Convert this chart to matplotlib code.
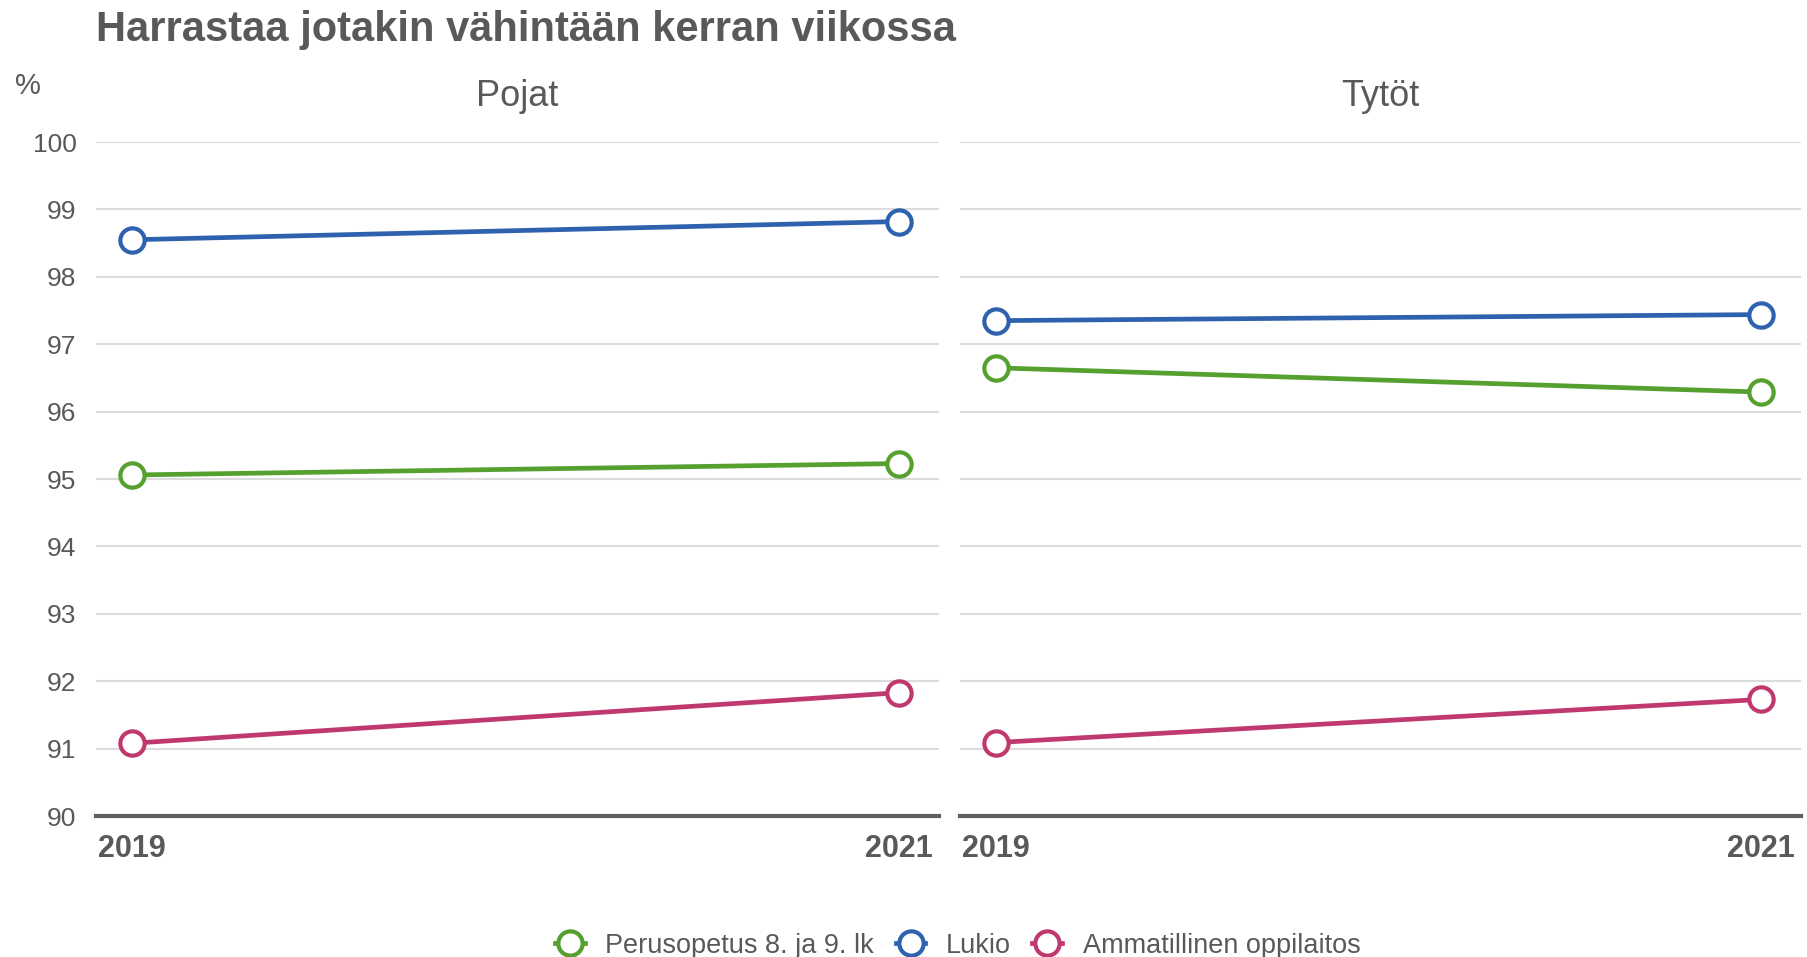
"""
Harrastaa jotakin vähintään kerran viikossa - Pojat / Tytöt.
"""

import matplotlib
matplotlib.use("Agg")  # headless
import matplotlib.pyplot as plt
from matplotlib.lines import Line2D

plt.rcParams["font.family"] = ["Liberation Sans", "DejaVu Sans"]

TEXT = "#595959"
GRID = "#dcdcdc"

years = [2019, 2021]
panels = ["Pojat", "Tytöt"]
series = ["Perusopetus 8. ja 9. lk", "Lukio", "Ammatillinen oppilaitos"]
colors = ["#55a02e", "#2e62ae", "#c0396e"]

pojat_perus = [95.06, 95.23]
pojat_lukio = [98.55, 98.82]
pojat_amm = [91.08, 91.83]

tytot_perus = [96.65, 96.29]
tytot_lukio = [97.35, 97.44]
tytot_amm = [91.09, 91.73]

values = {
    "Pojat": [pojat_perus, pojat_lukio, pojat_amm],
    "Tytöt": [tytot_perus, tytot_lukio, tytot_amm],
}

LW = 3.4
MS = 17.5
MEW = 3.0

fig = plt.figure(figsize=(18.07, 9.57), dpi=100)
bottom, height = 0.1473, 0.7043
axes = [
    fig.add_axes([0.0531, bottom, 0.4665, height]),
    fig.add_axes([0.5313, bottom, 0.4654, height]),
]

for i, (ax, panel) in enumerate(zip(axes, panels)):
    for vals, color in zip(values[panel], colors):
        ax.plot(years, vals, color=color, linewidth=LW, marker="o",
                markersize=MS, markerfacecolor="white", markeredgewidth=MEW,
                zorder=3, clip_on=False)

    ax.set_xlim(2018.905, 2021.105)
    ax.set_ylim(90, 100)
    ax.set_yticks(range(90, 101))
    ax.set_xticks(years)
    ax.set_xticklabels([str(y) for y in years], fontsize=22, fontweight="bold",
                       color=TEXT)
    ax.grid(axis="y", color=GRID, linewidth=1.5)
    ax.set_axisbelow(True)
    for side in ["top", "right", "left"]:
        ax.spines[side].set_visible(False)
    ax.spines["bottom"].set_color("#5f5f5f")
    ax.spines["bottom"].set_linewidth(3)
    ax.tick_params(axis="both", length=0)
    ax.tick_params(axis="x", pad=13)
    ax.tick_params(axis="y", pad=14, labelsize=19, labelcolor=TEXT)
    if i > 0:
        ax.tick_params(axis="y", labelleft=False)
    ax.set_title(panel, fontsize=26, color=TEXT, pad=26)

fig.text(0.0531, 0.969, "Harrastaa jotakin vähintään kerran viikossa",
         fontsize=30, fontweight="bold", color=TEXT, va="center", ha="left")
fig.text(0.0085, 0.91, "%", fontsize=21, color=TEXT, va="center", ha="left")

handles = [
    Line2D([0], [0], color=c, linewidth=LW, marker="o", markersize=MS,
           markerfacecolor="white", markeredgewidth=MEW)
    for c in colors
]
fig.legend(handles, series, loc="center", bbox_to_anchor=(0.53, 0.012),
           ncol=3, frameon=False, fontsize=19.5, handlelength=1.1,
           handletextpad=0.75, columnspacing=0.8, labelcolor=TEXT)

fig.savefig("out.png", dpi=100)
plt.close(fig)
